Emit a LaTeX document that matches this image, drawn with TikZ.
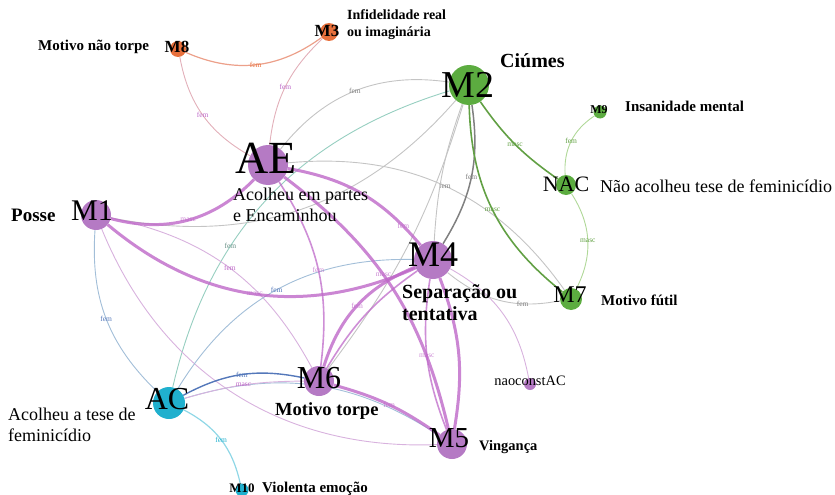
\documentclass[tikz,border=0pt]{standalone}
\usepackage{fontspec}
\setmainfont{Liberation Serif}
\usetikzlibrary{positioning,backgrounds}
\definecolor{purp}{RGB}{181,122,196}
\definecolor{grn}{RGB}{92,172,64}
\definecolor{orng}{RGB}{232,112,60}
\definecolor{cyn}{RGB}{32,176,206}
\definecolor{epurp}{RGB}{190,104,200}
\definecolor{lpurp}{RGB}{216,178,222}
\definecolor{egray}{RGB}{196,196,196}
\definecolor{dgray}{RGB}{128,128,128}
\definecolor{eteal}{RGB}{150,206,192}
\definecolor{lblue}{RGB}{162,190,216}
\definecolor{eblue}{RGB}{84,120,186}
\definecolor{egrn}{RGB}{98,160,68}
\definecolor{lgrn}{RGB}{176,216,152}
\definecolor{eorng}{RGB}{236,160,138}
\definecolor{epink}{RGB}{226,176,186}
\begin{document}
\begin{tikzpicture}[x=1pt,y=-1pt,
    vertex/.style={circle,inner sep=0pt,minimum size=#1},
    nlabel/.style={inner sep=0pt,font=\fontsize{#1}{#1}\selectfont},
    blabel/.style={inner sep=0pt,font=\bfseries\fontsize{#1}{#1}\selectfont},
    desc/.style={inner sep=0pt,align=left,anchor=west,font=\fontsize{18}{20.5}\selectfont},
    bdesc/.style={inner sep=0pt,align=left,anchor=west,font=\bfseries\fontsize{#1}{#1}\selectfont},
    elbl/.style={inner sep=0.5pt,text=#1,font=\fontsize{7.5}{7.5}\selectfont},
    heavy/.style={draw=epurp,line width=3pt,opacity=.8},
    mid/.style={draw=epurp,line width=1.6pt,opacity=.75},
    faint/.style={draw=#1,line width=0.9pt}]
  \useasboundingbox (0,0) rectangle (835,495);
  % circles
  \node[vertex=40pt,fill=purp] (AE) at (268,165) {};
  \node[vertex=40pt,fill=grn] (M2) at (469,85) {};
  \node[vertex=38pt,fill=purp] (M4) at (433,260) {};
  \node[vertex=30pt,fill=purp] (M1) at (96,215) {};
  \node[vertex=30pt,fill=purp] (M6) at (319,381) {};
  \node[vertex=30pt,fill=purp] (M5) at (452,444) {};
  \node[vertex=32pt,fill=cyn] (AC) at (169,403) {};
  \node[vertex=20pt,fill=grn] (NAC) at (566,185) {};
  \node[vertex=22pt,fill=grn] (M7) at (571,299) {};
  \node[vertex=16pt,fill=orng] (M8) at (178,49) {};
  \node[vertex=18pt,fill=orng] (M3) at (329,32) {};
  \node[vertex=13pt,fill=grn] (M9) at (600,112) {};
  \node[vertex=13pt,fill=cyn] (M10) at (242,490) {};
  \node[vertex=12pt,fill=purp] (nao) at (530,384) {};
  % connectors
  \begin{scope}[on background layer]
    \draw[faint=eorng,line width=1.2pt] (M8) to[bend right=30] node[elbl=orng]{fem} (M3);
    \draw[faint=epink] (M8) to[bend right=25] node[elbl=epurp]{fem} (AE);
    \draw[faint=epink] (M3) to[bend right=20] node[elbl=epurp]{fem} (AE);
    \draw[faint=egray] (AE) to[bend left=30] node[elbl=dgray]{fem} (M2);
    \draw[faint=eteal] (AC) to[bend left=30] node[pos=0.35,elbl=eteal!70!black]{fem} (M2);
    \draw[faint=egray] (M1) to[bend right=30] (M2);
    \draw[faint=egray] (AE) to[bend left=30] node[elbl=dgray]{fem} (M7);
    \draw[faint=egray] (M6) to[bend right=10] (M2);
    \draw[faint=lblue] (M1) to[bend right=25] node[elbl=eblue]{fem} (AC);
    \draw[faint=lpurp] (M1) to[bend left=25] node[elbl=epurp]{fem} (M6);
    \draw[faint=lpurp] (M1) to[bend right=35] (M5);
    \draw[faint=lblue] (AC) to[bend left=30] node[elbl=eblue]{fem} (M4);
    \draw[faint=lblue] (AC) to[bend left=25] (M5);
    \draw[faint=lpurp] (AC) to[bend left=8] node[elbl=epurp]{masc} (M6);
    \draw[draw=eblue,line width=1.4pt] (AC) to[bend left=20] node[elbl=eblue]{fem} (M6);
    \draw[faint=cyn!50,line width=1.2pt] (AC) to[bend left=25] node[elbl=cyn]{fem} (M10);
    \draw[heavy] (M1) to[bend right=30] node[elbl=epurp]{masc} (AE);
    \draw[heavy] (M1) to[bend right=32] node[elbl=epurp]{masc} (M4);
    \draw[heavy] (AE) to[bend left=20] node[pos=0.85,elbl=epurp]{fem} (M4);
    \draw[heavy] (AE) to[bend left=20] node[pos=0.45,elbl=epurp]{masc} (M5);
    \draw[mid] (AE) to[bend left=20] node[elbl=epurp]{fem} (M6);
    \draw[heavy] (M4) to[bend right=25] node[elbl=epurp]{fem} (M6);
    \draw[mid] (M4) to[bend right=12] (M6);
    \draw[heavy] (M4) to[bend left=15] (M5);
    \draw[mid] (M4) to[bend right=15] node[elbl=epurp]{masc} (M5);
    \draw[heavy] (M6) to[bend left=10] node[elbl=epurp]{fem} (M5);
    \draw[faint=lpurp] (M4) to[bend left=25] (nao);
    \draw[faint=egray] (M4) to[bend right=25] node[pos=0.7,elbl=dgray]{fem} (M7);
    \draw[draw=dgray,line width=1.5pt] (M2) to[bend left=20] node[elbl=dgray]{fem} (M4);
    \draw[faint=egray] (M2) to[bend right=8] (M4);
    \draw[draw=egrn,line width=1.6pt] (M2) to[bend right=25] node[elbl=egrn]{masc} (M7);
    \draw[draw=egrn,line width=1.6pt] (M2) to[bend right=10] node[elbl=egrn]{masc} (NAC);
    \draw[faint=lgrn] (NAC) to[bend left=30] node[elbl=egrn]{fem} (M9);
    \draw[faint=lgrn] (NAC) to[bend left=30] node[elbl=egrn]{masc} (M7);
  \end{scope}
  % node names
  \node[nlabel=46] (tAE) at (266,158) {AE};
  \node[nlabel=38] (tM2) at (468,85) {M2};
  \node[nlabel=36] (tM4) at (433,255) {M4};
  \node[nlabel=30] (tM1) at (92,211) {M1};
  \node[nlabel=32] (tM6) at (319,378) {M6};
  \node[nlabel=29] (tM5) at (449,438) {M5};
  \node[nlabel=32] (tAC) at (167,399) {AC};
  \node[nlabel=22] (tNAC) at (566,184) {NAC};
  \node[nlabel=24] (tM7) at (570,295) {M7};
  \node[blabel=17] (tM8) at (177,47) {M8};
  \node[blabel=17] (tM3) at (327,31) {M3};
  \node[blabel=12] (tM9) at (599,110) {M9};
  \node[blabel=13] (tM10) at (242,488) {M10};
  \node[nlabel=14.4] (tnao) at (530,381) {naoconstAC};
  % descriptions
  \node[bdesc=15] (dM8) at (38,47) {Motivo não torpe};
  \node[bdesc=14,font=\bfseries\fontsize{14}{17}\selectfont] (dM3) at (347,25) {Infidelidade real\\ou imaginária};
  \node[bdesc=20] (dM2) at (500,61) {Ciúmes};
  \node[bdesc=15] (dM9) at (625,106) {Insanidade mental};
  \node[desc] (dNAC) at (600,186) {Não acolheu tese de feminicídio};
  \node[bdesc=19] (dM1) at (11,215) {Posse};
  \node[desc] (dAE) at (233,205) {Acolheu em partes\\e Encaminhou};
  \node[bdesc=20,font=\bfseries\fontsize{20}{22}\selectfont] (dM4) at (402,303) {Separação ou\\tentativa};
  \node[bdesc=15] (dM7) at (601,300) {Motivo fútil};
  \node[desc] (dAC) at (8,425) {Acolheu a tese de\\feminicídio};
  \node[bdesc=18.5] (dM6) at (275,411) {Motivo torpe};
  \node[bdesc=14.5] (dM5) at (479,447) {Vingança};
  \node[bdesc=15] (dM10) at (262,489) {Violenta emoção};
\end{tikzpicture}
\end{document}
